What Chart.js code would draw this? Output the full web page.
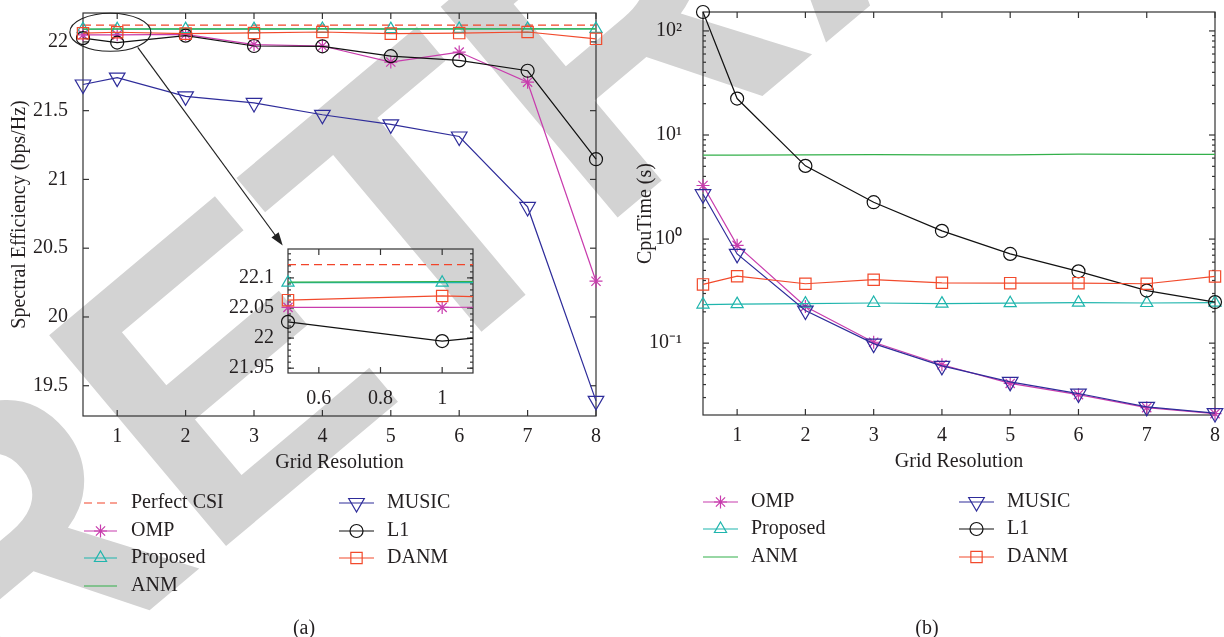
<!DOCTYPE html>
<html>
<head>
<meta charset="utf-8">
<script src="https://cdn.jsdelivr.net/npm/chart.js@4.4.1/dist/chart.umd.min.js"></script>
<style>
  html, body { margin: 0; padding: 0; background: #fff; }
  #page { position: relative; width: 1224px; height: 637px; overflow: hidden; font-family: "Liberation Serif", serif; color: #231f20; }
  #stamp { position: absolute; left: -233px; top: 490px; z-index: 0; font: bold 400px "Liberation Sans", sans-serif; line-height: 1; color: #d3d3d3; white-space: nowrap; transform-origin: 0 0; transform: rotate(-40deg); }
  canvas { position: absolute; z-index: 1; }
  .cap { position: absolute; z-index: 2; font-size: 20px; transform: translate(-50%, -50%); }
</style>
</head>
<body>
<div id="page">
  <div id="stamp">RETRACTED</div>
  <canvas id="chartA" width="612" height="637" style="left:0;top:0"></canvas>
  <canvas id="chartB" width="612" height="637" style="left:612px;top:0"></canvas>
  <canvas id="inset" width="300" height="180" style="left:190px;top:236px"></canvas>
  <div class="cap" style="left:304px;top:627px">(a)</div>
  <div class="cap" style="left:927px;top:627px">(b)</div>
</div>
<script>
/***********************
 * DATA
 ***********************/
const gridRes = [0.5, 1, 2, 3, 4, 5, 6, 7, 8];
const xTicks = [1, 2, 3, 4, 5, 6, 7, 8];

// (a) spectral efficiency (bps/Hz)
const sePerfect  = [22.122, 22.122, 22.122, 22.122, 22.122, 22.122, 22.122, 22.122, 22.122];
const seOMP      = [22.051, 22.051, 22.055, 21.98, 21.97, 21.853, 21.926, 21.707, 20.26];
const seProposed = [22.092, 22.092, 22.093, 22.093, 22.094, 22.093, 22.094, 22.094, 22.094];
const seANM      = [22.093, 22.094, 22.094, 22.094, 22.095, 22.095, 22.095, 22.095, 22.095];
const seMUSIC    = [21.69, 21.74, 21.604, 21.556, 21.47, 21.40, 21.312, 20.80, 19.39];
const seL1       = [22.027, 21.995, 22.045, 21.97, 21.968, 21.896, 21.865, 21.79, 21.147];
const seDANM     = [22.063, 22.07, 22.06, 22.065, 22.072, 22.06, 22.064, 22.072, 22.022];
const seTicks = [19.5, 20, 20.5, 21, 21.5, 22];
const insetXTicks = [0.6, 0.8, 1];
const insetYTicks = [21.95, 22, 22.05, 22.1];

// (b) cpu time (s)
const ctOMP      = [3.27, 0.87, 0.225, 0.102, 0.062, 0.041, 0.032, 0.024, 0.021];
const ctProposed = [0.235, 0.237, 0.24, 0.243, 0.24, 0.242, 0.245, 0.243, 0.245];
const ctANM      = [6.4, 6.42, 6.45, 6.47, 6.45, 6.45, 6.55, 6.5, 6.5];
const ctMUSIC    = [2.7, 0.72, 0.206, 0.099, 0.0605, 0.0425, 0.0328, 0.0244, 0.0213];
const ctL1       = [152, 22.4, 5.05, 2.26, 1.2, 0.72, 0.49, 0.32, 0.248];
const ctDANM     = [0.367, 0.44, 0.372, 0.407, 0.38, 0.377, 0.377, 0.372, 0.438];
const cpuTicks = [0.1, 1, 10, 100];
const cpuTickLabels = ["10\u207B\u00B9", "10\u2070", "10\u00B9", "10\u00B2"];

/***********************
 * STYLES
 ***********************/
const TEXT = "#231f20";
const FONT = '"Liberation Serif", serif';
Chart.defaults.font.family = FONT;
Chart.defaults.font.size = 20;
Chart.defaults.color = TEXT;

const look = {
    "Perfect CSI": { color: "#f2442a", point: false, dash: [8, 5] },
    "OMP":         { color: "#c83cad", point: "star", r: 6.5 },
    "Proposed":    { color: "#1fb5ad", point: "triangle", r: 7 },
    "ANM":         { color: "#33b04a", point: false },
    "MUSIC":       { color: "#2e2c9a", point: "triangle", rot: 180, r: 9 },
    "L1":          { color: "#111111", point: "circle", r: 6.5 },
    "DANM":        { color: "#f24a2c", point: "rect", r: 8 }
};

function series(label, values, n, clip) {
    const s = look[label];
    return {
        label,
        data: gridRes.map((x, i) => ({ x, y: values[i] })),
        borderColor: s.color,
        borderWidth: 1.2,
        borderDash: s.dash || [],
        pointStyle: s.point,
        pointRadius: s.point ? s.r : 0,
        pointRotation: s.rot || 0,
        pointBorderColor: s.color,
        pointBackgroundColor: "rgba(0,0,0,0)",
        pointBorderWidth: 1.2,
        tension: 0,
        order: 10 - n,
        clip: clip
    };
}

/***********************
 * PLUGINS
 ***********************/
// MATLAB style box with inward ticks on all four sides
const framePlugin = {
    id: "frame",
    beforeDatasetsDraw(chart, args, o) {
        const { ctx, chartArea: a, scales } = chart;
        const line = (x1, y1, x2, y2) => { ctx.beginPath(); ctx.moveTo(x1, y1); ctx.lineTo(x2, y2); ctx.stroke(); };
        ctx.save();
        ctx.strokeStyle = "#333";
        ctx.lineWidth = 1.2;
        ctx.strokeRect(a.left, a.top, a.width, a.height);
        (o.x || []).forEach(v => {
            const x = scales.x.getPixelForValue(v);
            line(x, a.bottom, x, a.bottom - 6);
            line(x, a.top, x, a.top + 6);
        });
        (o.y || []).forEach(v => {
            const y = scales.y.getPixelForValue(v);
            line(a.left, y, a.left + 6, y);
            line(a.right, y, a.right - 6, y);
        });
        (o.yMinor || []).forEach(v => {
            const y = scales.y.getPixelForValue(v);
            if (y < a.top || y > a.bottom) return;
            line(a.left, y, a.left + 3, y);
            line(a.right, y, a.right - 3, y);
        });
        ctx.restore();
    }
};

// two-column legend under each panel
const legendPlugin = {
    id: "colLegend",
    afterDraw(chart, args, o) {
        if (!o.items) return;
        const ctx = chart.ctx;
        ctx.save();
        ctx.font = "20px " + FONT;
        ctx.textBaseline = "middle";
        o.items.forEach(it => {
            const ds = chart.data.datasets.find(d => d.label === it.label);
            ctx.strokeStyle = ds.borderColor;
            ctx.lineWidth = 1.2;
            ctx.setLineDash(ds.borderDash);
            ctx.beginPath();
            ctx.moveTo(it.x0, it.y);
            ctx.lineTo(it.x1, it.y);
            ctx.stroke();
            ctx.setLineDash([]);
            if (ds.pointStyle) {
                ctx.fillStyle = "rgba(0,0,0,0)";
                Chart.helpers.drawPoint(ctx, {
                    pointStyle: ds.pointStyle, rotation: ds.pointRotation,
                    radius: ds.pointRadius, borderWidth: 1.2
                }, (it.x0 + it.x1) / 2, it.y);
            }
            ctx.fillStyle = TEXT;
            ctx.fillText(ds.label, it.tx, it.y);
        });
        ctx.restore();
    }
};

// zoom ellipse and arrow pointing at the inset
const calloutPlugin = {
    id: "callout",
    afterDraw(chart, args, o) {
        if (!o.ellipse) return;
        const { ctx, scales } = chart;
        const px = (v) => scales.x.getPixelForValue(v);
        const py = (v) => scales.y.getPixelForValue(v);
        ctx.save();
        ctx.strokeStyle = "#222";
        ctx.fillStyle = "#222";
        ctx.lineWidth = 1.2;
        ctx.beginPath();
        ctx.ellipse(px(o.ellipse.x), py(o.ellipse.y), o.ellipse.rx, o.ellipse.ry, 0, 0, Math.PI * 2);
        ctx.stroke();
        const x1 = px(o.arrow[0]), y1 = py(o.arrow[1]), x2 = px(o.arrow[2]), y2 = py(o.arrow[3]);
        const ang = Math.atan2(y2 - y1, x2 - x1);
        ctx.beginPath();
        ctx.moveTo(x1, y1);
        ctx.lineTo(x2 - Math.cos(ang) * 8, y2 - Math.sin(ang) * 8);
        ctx.stroke();
        ctx.beginPath();
        ctx.moveTo(x2, y2);
        ctx.lineTo(x2 - 13 * Math.cos(ang) + 4.5 * Math.sin(ang), y2 - 13 * Math.sin(ang) - 4.5 * Math.cos(ang));
        ctx.lineTo(x2 - 13 * Math.cos(ang) - 4.5 * Math.sin(ang), y2 - 13 * Math.sin(ang) + 4.5 * Math.cos(ang));
        ctx.closePath();
        ctx.fill();
        ctx.restore();
    }
};

function xScale(min, max, ticks, height, title, pad) {
    return {
        type: "linear", min, max,
        grid: { display: false }, border: { display: false },
        afterBuildTicks: s => { s.ticks = ticks.map(v => ({ value: v })); },
        ticks: { padding: pad, maxRotation: 0, autoSkip: false, callback: v => String(v) },
        title: { display: !!title, text: title, padding: { top: 0, bottom: 1 } },
        afterFit: s => { s.height = height; s.paddingLeft = 0; s.paddingRight = 0; }
    };
}

function baseOptions(padding, scales, plugins) {
    return {
        responsive: false, animation: false, devicePixelRatio: 1,
        layout: { padding, autoPadding: false },
        scales,
        plugins: Object.assign({ legend: { display: false }, tooltip: { enabled: false } }, plugins)
    };
}

/***********************
 * (a) SPECTRAL EFFICIENCY
 ***********************/
const namesA = ["Perfect CSI", "OMP", "Proposed", "ANM", "MUSIC", "L1", "DANM"];
const valuesA = [sePerfect, seOMP, seProposed, seANM, seMUSIC, seL1, seDANM];

new Chart(document.getElementById("chartA"), {
    type: "line",
    data: { datasets: namesA.map((n, i) => series(n, valuesA[i], i, false)) },
    options: baseOptions({ left: 0, top: 13, right: 16, bottom: 161 }, {
        x: xScale(0.5, 8, xTicks, 60, "Grid Resolution", 1),
        y: {
            min: 19.28, max: 22.21,
            grid: { display: false }, border: { display: false },
            afterBuildTicks: s => { s.ticks = seTicks.map(v => ({ value: v })); },
            ticks: { padding: 7, callback: v => String(v) },
            title: { display: true, text: "Spectral Efficiency (bps/Hz)", padding: { top: 8, bottom: 0 } },
            afterFit: s => { s.width = 83; s.paddingTop = 0; s.paddingBottom = 0; }
        }
    }, {
        frame: { x: xTicks, y: seTicks },
        callout: { ellipse: { x: 0.9, y: 22.07, rx: 40.5, ry: 19 }, arrow: [1.3, 21.96, 3.42, 20.52] },
        colLegend: { items: [
            { label: "Perfect CSI", x0: 84, x1: 117, tx: 131, y: 503 },
            { label: "OMP",         x0: 84, x1: 117, tx: 131, y: 531 },
            { label: "Proposed",    x0: 84, x1: 117, tx: 131, y: 558 },
            { label: "ANM",         x0: 84, x1: 117, tx: 131, y: 586 },
            { label: "MUSIC",       x0: 339, x1: 374, tx: 387, y: 503 },
            { label: "L1",          x0: 339, x1: 374, tx: 387, y: 531 },
            { label: "DANM",        x0: 339, x1: 374, tx: 387, y: 558 }
        ] }
    }),
    plugins: [framePlugin, calloutPlugin, legendPlugin]
});

/***********************
 * INSET OF (a)
 ***********************/
const insetNames = ["Perfect CSI", "OMP", "Proposed", "ANM", "L1", "DANM"];
const insetValues = [sePerfect, seOMP, seProposed, seANM, seL1, seDANM];
const insetMinor = [];
for (let k = 0; k <= 21; k++) insetMinor.push(21.94 + k * 0.01);

new Chart(document.getElementById("inset"), {
    type: "line",
    data: { datasets: insetNames.map((n, i) => series(n, insetValues[i], i, { left: 12, top: 2, right: 0, bottom: 2 })) },
    options: baseOptions({ left: 0, top: 13, right: 17, bottom: 3 }, {
        x: xScale(0.5, 1.1, insetXTicks, 40, "", 6),
        y: {
            min: 21.942, max: 22.148,
            grid: { display: false }, border: { display: false },
            afterBuildTicks: s => { s.ticks = insetYTicks.map(v => ({ value: v })); },
            ticks: { padding: 6, callback: v => String(v) },
            afterFit: s => { s.width = 98; s.paddingTop = 0; s.paddingBottom = 0; }
        }
    }, {
        frame: { x: insetXTicks, y: insetYTicks, yMinor: insetMinor }
    }),
    plugins: [framePlugin]
});

/***********************
 * (b) CPU TIME
 ***********************/
const namesB = ["OMP", "Proposed", "ANM", "MUSIC", "L1", "DANM"];
const valuesB = [ctOMP, ctProposed, ctANM, ctMUSIC, ctL1, ctDANM];
const cpuMinor = [];
[0.01, 0.1, 1, 10, 100].forEach(d => { for (let k = 2; k <= 9; k++) cpuMinor.push(d * k); });

new Chart(document.getElementById("chartB"), {
    type: "line",
    data: { datasets: namesB.map((n, i) => series(n, valuesB[i], i, false)) },
    options: baseOptions({ left: 0, top: 12, right: 9, bottom: 162 }, {
        x: xScale(0.5, 8, xTicks, 60, "Grid Resolution", 1),
        y: {
            type: "logarithmic", min: 0.0204, max: 152, bounds: "data",
            grid: { display: false }, border: { display: false },
            afterBuildTicks: s => { s.ticks = cpuTicks.map(v => ({ value: v })); },
            ticks: { padding: 13, callback: v => cpuTickLabels[cpuTicks.indexOf(v)] },
            title: { display: true, text: "CpuTime (s)", padding: { top: 22, bottom: 0 } },
            afterFit: s => { s.width = 91; s.paddingTop = 0; s.paddingBottom = 0; }
        }
    }, {
        frame: { x: xTicks, y: cpuTicks, yMinor: cpuMinor },
        colLegend: { items: [
            { label: "OMP",      x0: 91, x1: 126, tx: 139, y: 502 },
            { label: "Proposed", x0: 91, x1: 126, tx: 139, y: 529 },
            { label: "ANM",      x0: 91, x1: 126, tx: 139, y: 557 },
            { label: "MUSIC",    x0: 347, x1: 382, tx: 395, y: 502 },
            { label: "L1",       x0: 347, x1: 382, tx: 395, y: 529 },
            { label: "DANM",     x0: 347, x1: 382, tx: 395, y: 557 }
        ] }
    }),
    plugins: [framePlugin, legendPlugin]
});
</script>
</body>
</html>
